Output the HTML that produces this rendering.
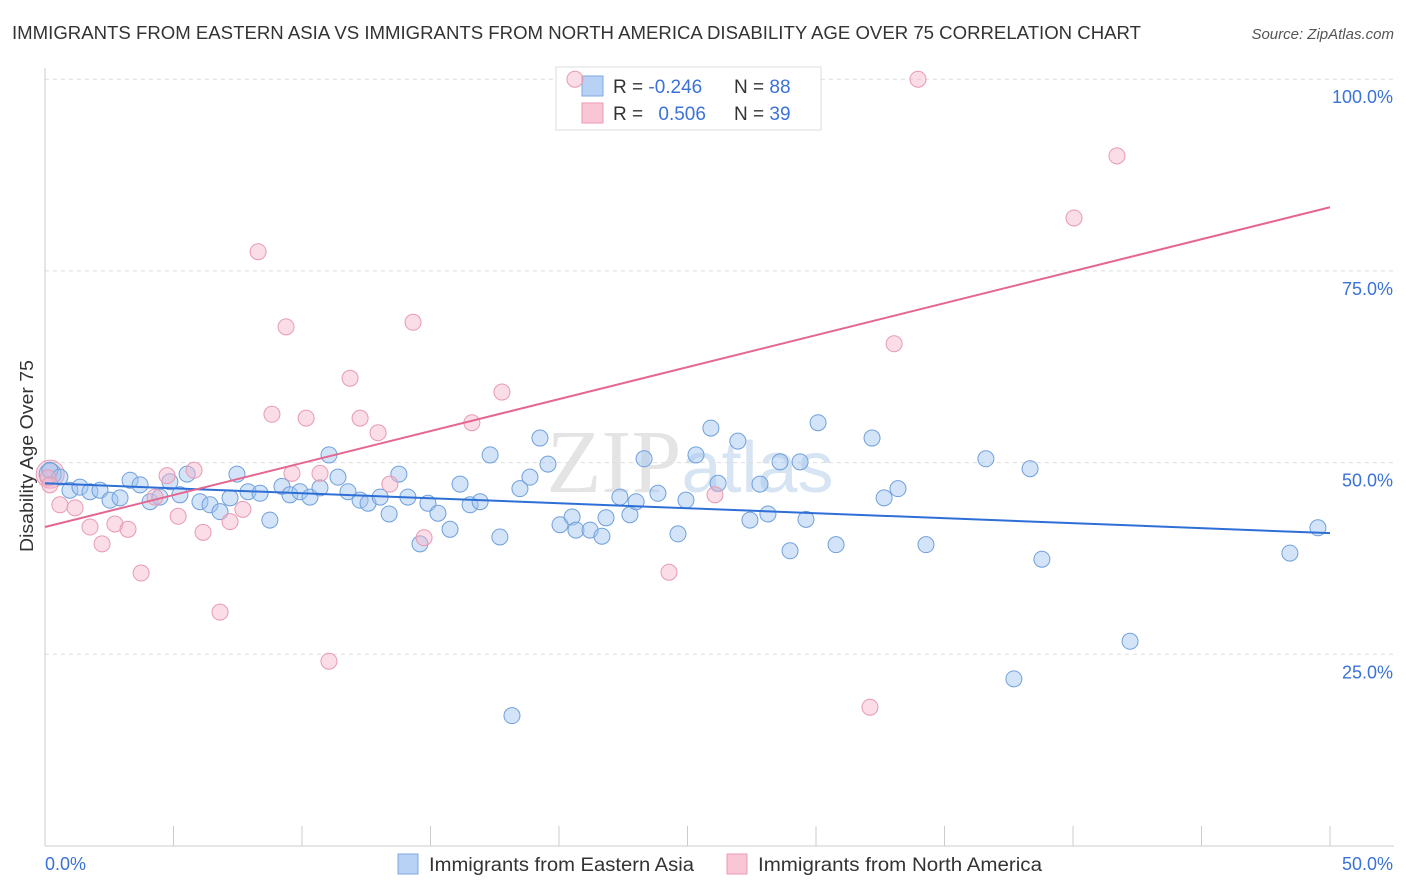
<!DOCTYPE html>
<html><head><meta charset="utf-8"><style>
body{margin:0;background:#fff;font-family:"Liberation Sans",sans-serif;}
svg{display:block}
</style></head><body>
<svg id="chart" width="1406" height="892">
<text x="12" y="39" font-size="18" fill="#333" textLength="1129" lengthAdjust="spacingAndGlyphs">IMMIGRANTS FROM EASTERN ASIA VS IMMIGRANTS FROM NORTH AMERICA DISABILITY AGE OVER 75 CORRELATION CHART</text>
<text x="1394" y="39" font-size="15" fill="#555" font-style="italic" text-anchor="end">Source: ZipAtlas.com</text>
<text x="690" y="492" font-size="90" fill="#e4e4e4" text-anchor="middle" font-family="Liberation Serif,serif">ZIP<tspan fill="#d6e4f3" font-family="Liberation Sans,sans-serif" font-size="72">atlas</tspan></text>
<g id="grid"></g><g id="axes"></g>
<text transform="translate(33,456) rotate(-90)" font-size="18" fill="#333" text-anchor="middle" textLength="192" lengthAdjust="spacingAndGlyphs">Disability Age Over 75</text>
<g>
<rect x="556" y="67" width="265" height="63" fill="#fff" stroke="#ddd"/>
<rect x="582" y="76" width="21" height="20" fill="#b8d2f5" stroke="#7fa8e0"/>
<rect x="582" y="103" width="21" height="20" fill="#f9c6d6" stroke="#ec9ab5"/>
<text x="613" y="93" font-size="19" fill="#333">R = <tspan fill="#3a72d8">-0.246</tspan></text>
<text x="734" y="93" font-size="19" fill="#333">N = <tspan fill="#3a72d8">88</tspan></text>
<text x="613" y="120" font-size="19" fill="#333">R = <tspan fill="#3a72d8" dx="10">0.506</tspan></text>
<text x="734" y="120" font-size="19" fill="#333">N = <tspan fill="#3a72d8">39</tspan></text>
</g>
<g id="marks"></g>
<g>
<rect x="398" y="854" width="20" height="20" fill="#b8d2f5" stroke="#7fa8e0"/>
<text x="429" y="871" font-size="19" fill="#333" textLength="265" lengthAdjust="spacingAndGlyphs">Immigrants from Eastern Asia</text>
<rect x="727" y="854" width="20" height="20" fill="#f9c6d6" stroke="#ec9ab5"/>
<text x="758" y="871" font-size="19" fill="#333" textLength="284" lengthAdjust="spacingAndGlyphs">Immigrants from North America</text>
</g>
</svg>
<script>
const yTicks=[25,50,75,100];
const yTickLabels=["25.0%","50.0%","75.0%","100.0%"];
const xTicks=[0,5,10,15,20,25,30,35,40,45,50];
const xEndLabels=["0.0%","50.0%"];
const blueX=[0.19,0.58,0.97,1.36,1.75,2.14,2.53,2.92,3.31,3.70,4.09,4.47,4.86,5.25,5.53,6.03,6.42,6.81,7.20,7.47,7.90,8.37,8.75,9.22,9.53,9.92,10.31,10.70,11.05,11.40,11.79,12.26,12.57,13.04,13.39,13.77,14.12,14.59,14.90,15.29,15.76,16.15,16.54,16.93,17.32,17.70,18.17,18.48,18.87,19.26,19.57,20.04,20.51,20.66,21.21,21.67,21.83,22.37,22.76,23.00,23.31,23.85,24.63,24.94,25.33,25.91,26.19,26.96,27.43,27.82,28.13,28.60,28.99,29.38,29.61,30.08,30.78,32.18,32.65,33.19,34.28,36.61,37.70,38.33,38.79,42.22,48.44,49.53];
const blueY=[49.0,48.1,46.4,46.8,46.2,46.4,45.1,45.4,47.7,47.1,44.9,45.5,47.5,45.8,48.5,44.9,44.5,43.6,45.4,48.5,46.2,46.0,42.5,46.9,45.8,46.2,45.5,46.7,51.0,48.1,46.2,45.1,44.7,45.5,43.3,48.5,45.5,39.4,44.7,43.4,41.3,47.2,44.5,44.9,51.0,40.3,17.0,46.6,48.1,53.2,49.8,41.9,42.9,41.2,41.2,40.4,42.8,45.5,43.2,44.9,50.5,46.0,40.7,45.1,51.0,54.5,47.3,52.8,42.5,47.2,43.3,50.1,38.5,50.1,42.6,55.2,39.3,53.2,45.4,46.6,39.3,50.5,21.8,49.2,37.4,26.7,38.2,41.5];
const pinkX=[0.12,0.19,0.58,1.17,1.75,2.22,2.72,3.23,3.74,4.28,4.75,5.18,5.80,6.15,6.81,7.20,7.70,8.29,8.83,9.38,9.61,10.16,10.70,11.05,11.87,12.26,12.96,13.42,14.32,14.75,16.61,17.78,20.62,24.28,26.07,32.10,33.04,33.97,40.04,41.71];
const pinkY=[48.0,47.1,44.5,44.1,41.6,39.4,42.0,41.3,35.6,45.5,48.3,43.0,49.0,40.9,30.5,42.3,43.9,77.5,56.3,67.7,48.6,55.8,48.6,24.1,61.0,55.8,53.9,47.2,68.3,40.2,55.2,59.2,100.0,35.7,45.8,18.1,65.5,100.0,81.9,90.0];
const blueTrend=[47.3,40.8];
const pinkTrend=[41.6,83.3];
const NS="http://www.w3.org/2000/svg";
const X=v=>45+v*25.7, Y=v=>846-v*7.668;
function mk(tag,attrs,parent){const e=document.createElementNS(NS,tag);for(const k in attrs)e.setAttribute(k,attrs[k]);parent.appendChild(e);return e;}
const grid=document.getElementById('grid'),axes=document.getElementById('axes'),marks=document.getElementById('marks');
yTicks.forEach((t,i)=>{
 const l=mk('line',{x1:45,x2:1394,y1:Y(t),y2:Y(t),stroke:'#ddd','stroke-dasharray':'4,4'},grid);
 
 
 const tx=mk('text',{x:1393,y:Y(t)+24,'font-size':18,fill:'#3a72d8','text-anchor':'end'},axes);
 tx.textContent=yTickLabels[i];
 
 
});
const ya=mk('line',{x1:45,x2:45,y1:68,y2:846,stroke:'#ccc'},axes);


const xa=mk('line',{x1:45,x2:1394,y1:846,y2:846,stroke:'#ccc'},axes);


xTicks.forEach(t=>{const l=mk('line',{x1:X(t),x2:X(t),y1:826,y2:846,stroke:'#ccc'},axes);
 
 });
[[0,'start',45],[50,'end',1393]].forEach((d,i)=>{const tx=mk('text',{x:d[2],y:870,'font-size':18,fill:'#3a72d8','text-anchor':d[1]},axes);tx.textContent=xEndLabels[i];
 
 });
const big1=mk('circle',{cx:X(0.2),cy:Y(48.5),r:14,fill:'rgba(240,170,195,0.4)',stroke:'#e89ab4'},marks);


const big2=mk('circle',{cx:X(0.2),cy:Y(48.5),r:11,fill:'rgba(160,196,240,0.4)',stroke:'#6fa0dc'},marks);


blueX.forEach((x,i)=>{const c=mk('circle',{cx:X(x),cy:Y(blueY[i]),r:8,fill:'rgba(160,196,240,0.45)',stroke:'#6fa0dc','stroke-width':1},marks);
 
 });
pinkX.forEach((x,i)=>{const c=mk('circle',{cx:X(x),cy:Y(pinkY[i]),r:8,fill:'rgba(245,180,200,0.45)',stroke:'#e89ab4','stroke-width':1},marks);
 
 });
const bt=mk('line',{x1:X(0),y1:Y(blueTrend[0]),x2:X(50),y2:Y(blueTrend[1]),stroke:'#2e6fd6','stroke-width':2},marks);


const pt=mk('line',{x1:X(0),y1:Y(pinkTrend[0]),x2:X(50),y2:Y(pinkTrend[1]),stroke:'#e5668f','stroke-width':2},marks);


</script>
</body></html>
